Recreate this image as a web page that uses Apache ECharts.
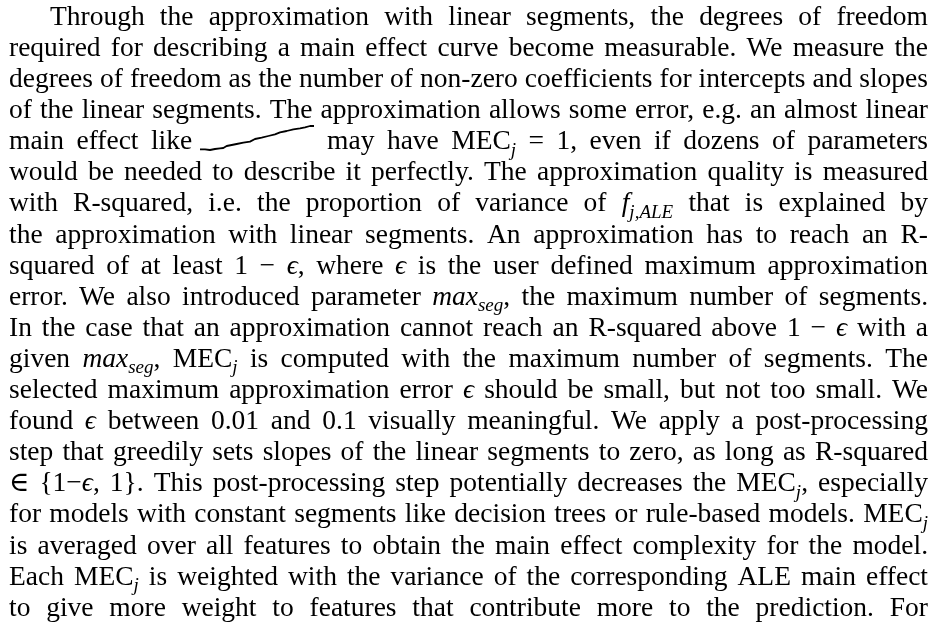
<!DOCTYPE html>
<html>
<head>
<meta charset="utf-8">
<script src="https://cdn.jsdelivr.net/npm/echarts@6/dist/echarts.min.js"></script>
<style>
  html, body { margin: 0; padding: 0; background: #fff; }
  #chart { width: 938px; height: 635px; }
</style>
</head>
<body>
<div id="chart"></div>
<script>
// inline "almost linear" main effect curve (arbitrary units)
const curveX = [30, 45, 60, 75, 90, 100, 110, 125, 140, 160, 180, 195, 215, 235, 255, 270, 290, 310, 330, 345, 360, 372]
const curveY = [12, 12, 10, 13, 15, 16, 22, 25, 28, 32, 35, 43, 47, 52, 57, 63, 67, 72, 75, 78, 82, 82]

// paragraph, one entry per printed line
// [i:..] italic, [s:..] italic subscript, [w:..] empty box of given width
const textLines = [
  'Through the approximation with linear segments, the degrees of freedom',
  'required for describing a main effect curve become measurable. We measure the',
  'degrees of freedom as the number of non-zero coefficients for intercepts and slopes',
  'of the linear segments. The approximation allows some error, e.g. an almost linear',
  'main effect like [w:110] may have MEC[s:j] = 1, even if dozens of parameters',
  'would be needed to describe it perfectly. The approximation quality is measured',
  'with R-squared, i.e. the proportion of variance of [i:f][s:j,ALE] that is explained by',
  'the approximation with linear segments. An approximation has to reach an R-',
  'squared of at least 1 − [i:ϵ], where [i:ϵ] is the user defined maximum approximation',
  'error. We also introduced parameter [i:max][s:seg], the maximum number of segments.',
  'In the case that an approximation cannot reach an R-squared above 1 − [i:ϵ] with a',
  'given [i:max][s:seg], MEC[s:j] is computed with the maximum number of segments. The',
  'selected maximum approximation error [i:ϵ] should be small, but not too small. We',
  'found [i:ϵ] between 0.01 and 0.1 visually meaningful. We apply a post-processing',
  'step that greedily sets slopes of the linear segments to zero, as long as R-squared',
  '∈ {1−[i:ϵ], 1}. This post-processing step potentially decreases the MEC[s:j], especially',
  'for models with constant segments like decision trees or rule-based models. MEC[s:j]',
  'is averaged over all features to obtain the main effect complexity for the model.',
  'Each MEC[s:j] is weighted with the variance of the corresponding ALE main effect',
  'to give more weight to features that contribute more to the prediction. For'
]

const FAMILY = "'Liberation Serif', 'DejaVu Serif', serif"
const FS = 27.5
const SUB_FS = 19
const LEFT = 9
const RIGHT = 928
const INDENT = 50
const FIRST_BASELINE = 26
const LINE_STEP = 31.1
const MIN_GAP = 6

const ctx = document.createElement('canvas').getContext('2d')

function fontOf(kind) {
  if (kind === 'i') return 'italic ' + FS + 'px ' + FAMILY
  if (kind === 's') return 'italic ' + SUB_FS + 'px ' + FAMILY
  return FS + 'px ' + FAMILY
}

function parseWord(word) {
  const runs = []
  const re = /\[(i|s|w):([^\]]*)\]/g
  let last = 0
  let m
  while ((m = re.exec(word))) {
    if (m.index > last) runs.push({ kind: 'n', text: word.slice(last, m.index) })
    runs.push({ kind: m[1], text: m[2] })
    last = re.lastIndex
  }
  if (last < word.length) runs.push({ kind: 'n', text: word.slice(last) })
  runs.forEach(r => {
    if (r.kind === 'w') {
      r.width = +r.text
      r.text = ''
      r.fixed = true
    } else {
      ctx.font = fontOf(r.kind)
      r.width = ctx.measureText(r.text).width
    }
  })
  return runs
}

// justified lines: stretch word gaps, squeeze glyphs only if a line overflows
function buildText() {
  const els = []
  textLines.forEach((line, li) => {
    const x0 = li === 0 ? INDENT : LEFT
    const baseline = FIRST_BASELINE + li * LINE_STEP
    const words = line.split(' ').map(parseWord)
    let fixedW = 0
    let textW = 0
    words.forEach(runs => runs.forEach(r => {
      if (r.fixed) fixedW += r.width
      else textW += r.width
    }))
    const target = RIGHT - x0
    let gap = (target - fixedW - textW) / (words.length - 1)
    let sx = 1
    if (gap < MIN_GAP) {
      gap = MIN_GAP
      sx = (target - fixedW - MIN_GAP * (words.length - 1)) / textW
    }
    let x = x0
    words.forEach(runs => {
      runs.forEach(r => {
        if (r.fixed) {
          x += r.width
          return
        }
        const isSub = r.kind === 's'
        const size = isSub ? SUB_FS : FS
        const b = baseline + (isSub ? 6 : 0)
        els.push({
          type: 'text',
          silent: true,
          x: x,
          y: b - 0.305 * size,
          scaleX: sx,
          style: {
            text: r.text,
            x: 0,
            y: 0,
            font: fontOf(r.kind),
            fill: '#000',
            align: 'left',
            verticalAlign: 'middle',
            textAlign: 'left',
            textVerticalAlign: 'middle'
          }
        })
        x += r.width * sx
      })
      x += gap
    })
  })
  return els
}

const chart = echarts.init(document.getElementById('chart'), null, { renderer: 'canvas' })

chart.setOption({
  animation: false,
  backgroundColor: '#fff',
  grid: { left: 200, top: 126, width: 114, height: 24 },
  xAxis: { type: 'value', min: 30, max: 372, show: false },
  yAxis: { type: 'value', min: 10, max: 82, show: false },
  series: [{
    type: 'line',
    data: curveX.map((v, i) => [v, curveY[i]]),
    showSymbol: false,
    smooth: false,
    lineStyle: { color: '#000', width: 1.8 }
  }],
  graphic: { elements: buildText() }
})
</script>
</body>
</html>
